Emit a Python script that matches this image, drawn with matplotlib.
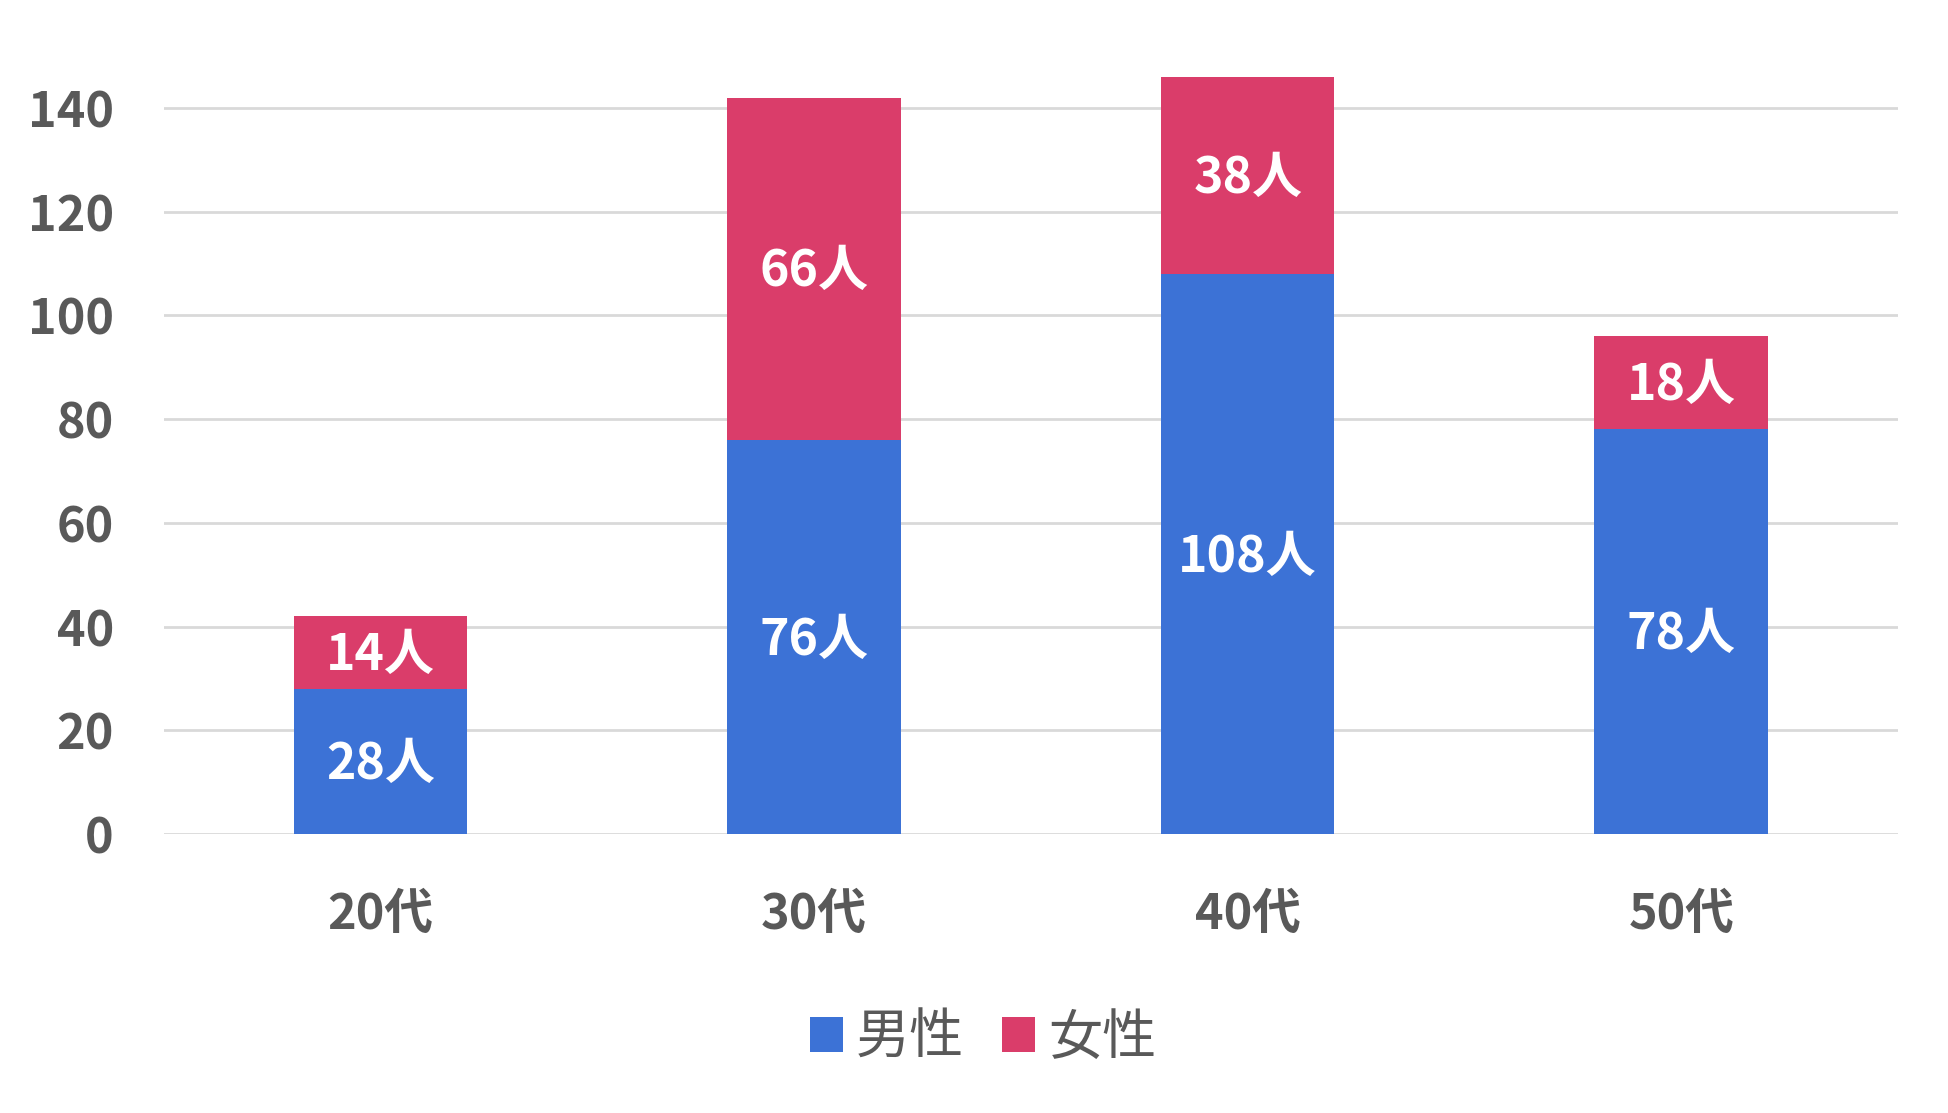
import numpy as np
import matplotlib
matplotlib.use('Agg')
import matplotlib.pyplot as plt

plt.rcParams['font.family'] = ['Noto Sans CJK JP', 'DejaVu Sans']

# data
ages = ['20代', '30代', '40代', '50代']
men = [28, 76, 108, 78]
women = [14, 66, 38, 18]
series_names = ['男性', '女性']
yticks = [0, 20, 40, 60, 80, 100, 120, 140]

blue = '#3C72D6'
pink = '#DA3D6A'
gray = '#595959'

fig = plt.figure(figsize=(19.49, 11.13), dpi=100)
ax = fig.add_axes([0.0841, 0.2507, 0.8897, 0.7222])

x = np.arange(len(ages))
b1 = ax.bar(x, men, width=0.4, color=blue, label=series_names[0], zorder=3)
b2 = ax.bar(x, women, width=0.4, bottom=men, color=pink, label=series_names[1], zorder=3)

# labels in the middle of each segment
for i in range(len(ages)):
    ax.text(x[i], men[i] / 2 - 0.6, str(men[i]) + '人', ha='center', va='center',
            color='white', fontsize=36, fontweight='bold', zorder=4)
    ax.text(x[i], men[i] + women[i] / 2 - 0.6, str(women[i]) + '人', ha='center', va='center',
            color='white', fontsize=36, fontweight='bold', zorder=4)

ax.set_xlim(-0.5, 3.5)
ax.set_ylim(0, 155)
ax.set_yticks(yticks)
ax.set_xticks(x)
ax.set_xticklabels(ages)
ax.yaxis.grid(True, color='#D9D9D9', linewidth=2, zorder=0)
ax.set_axisbelow(True)
for s in ax.spines.values():
    s.set_visible(False)
ax.tick_params(axis='both', length=0, labelsize=35, colors=gray)
ax.tick_params(axis='y', pad=36)
ax.tick_params(axis='x', pad=40)
for lab in ax.get_xticklabels() + ax.get_yticklabels():
    lab.set_fontweight('bold')

leg = fig.legend(handles=[b1, b2], labels=series_names, loc='center',
                 bbox_to_anchor=(0.5045, 1 - 1038 / 1113), ncol=2, frameon=False,
                 fontsize=39, handlelength=0.6, handleheight=0.6,
                 handletextpad=0.25, columnspacing=0.7)
for t in leg.get_texts():
    t.set_color(gray)

fig.savefig('out.png', dpi=100, facecolor='white')
